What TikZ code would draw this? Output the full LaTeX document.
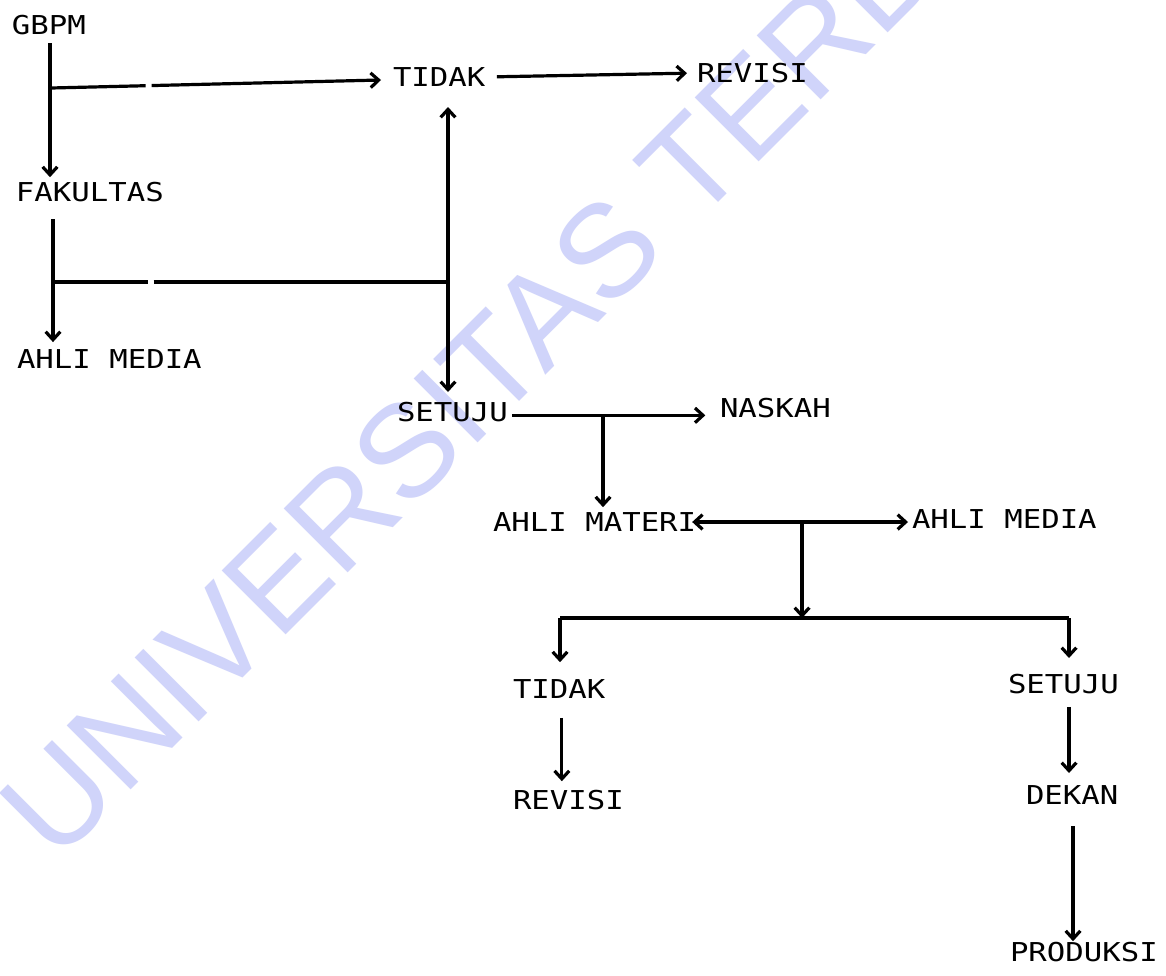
\documentclass[tikz,border=0pt]{standalone}
\usepackage{fontspec}
\usetikzlibrary{arrows.meta}
\newfontfamily\tw[FakeStretch=1.18]{DejaVu Sans Mono}
\newfontfamily\wmfont{Liberation Sans}
\definecolor{wmcol}{RGB}{208,212,250}
\tikzset{
  lbl/.style={inner sep=0pt, outer sep=0pt, anchor=west,
    font=\tw\fontsize{19.5}{20}\selectfont, text height=14.2pt, text depth=0pt},
  ln/.style={line width=2.4pt},
  arr/.style={ln, -{Straight Barb[length=6pt,width=11pt]}},
  darr/.style={ln, {Straight Barb[length=6pt,width=11pt]}-{Straight Barb[length=6pt,width=11pt]}},
  gapline/.style={dash pattern=on 71pt off 4.5pt on 600pt}
}
\begin{document}
\begin{tikzpicture}[x=0.75pt,y=-0.75pt]
\fill[white] (0,0) rectangle (1166,975);
\useasboundingbox (0,0) rectangle (1166,975);
% watermark
\begin{scope}
\clip (0,0) rectangle (1166,975);
\node[anchor=base west, inner sep=0pt, rotate=45, text=wmcol,
  font=\wmfont\fontsize{98.6}{98.6}\selectfont] (wm) at (56,865) {UNIVERSITAS TERBUKA};
\end{scope}
% labels
\node[lbl] (gbpm) at (12,25) {GBPM};
\node[lbl] (fak) at (16,192) {FAKULTAS};
\node[lbl] (medL) at (17,359) {AHLI MEDIA};
\node[lbl] (tidak1) at (393,77) {TIDAK};
\node[lbl] (rev1) at (697,73) {REVISI};
\node[lbl] (setuju1) at (397,412) {SETUJU};
\node[lbl] (naskah) at (720,408) {NASKAH};
\node[lbl] (materi) at (493,522) {AHLI MATERI};
\node[lbl] (medR) at (912,519) {AHLI MEDIA};
\node[lbl] (tidak2) at (513,689) {TIDAK};
\node[lbl] (setuju2) at (1008,684) {SETUJU};
\node[lbl] (rev2) at (513,800) {REVISI};
\node[lbl] (dekan) at (1026,795) {DEKAN};
\node[lbl] (produksi) at (1010,952) {PRODUKSI};
% junctions
\coordinate (gTop) at (50,43);
\coordinate (gJ) at (51,88);
\coordinate (fTop) at (53,219);
\coordinate (fJ) at (53,282);
\coordinate (vJ) at (448,282);
\coordinate (sJ) at (603,415);
\coordinate (mJ) at (802,522);
\coordinate (bJ) at (802,618);
\coordinate (bL) at (560,618);
\coordinate (bR) at (1069,618);
\coordinate (dTop) at (1073,826);
% left column
\draw[arr, shorten >=4pt] (gTop) -- (gTop |- fak.north);
\draw[arr, gapline] (gJ) -- ([xshift=-9pt,yshift=-2.25pt]tidak1.west);
\draw[arr, shorten >=5.6pt] (fTop) -- (fTop |- medL.north);
\draw[ln, gapline] (fJ) -- (vJ);
% TIDAK / SETUJU double arrow
\draw[darr, shorten <=15.4pt, shorten >=7.9pt] (vJ |- tidak1.south) -- (vJ |- setuju1.north);
\draw[arr, shorten <=8.6pt, shorten >=7.5pt] (tidak1.east) -- (rev1.west);
% SETUJU branch
\draw[arr, shorten <=3pt, shorten >=11pt] ([yshift=-2.5pt]setuju1.east) -- ([yshift=-2.5pt]setuju1.east -| naskah.west);
\draw[arr, shorten >=4pt] (sJ) -- (sJ |- materi.north);
\draw[darr, shorten <=-3pt, shorten >=3pt] (materi.east) -- (materi.east -| medR.west);
\draw[arr] (mJ) -- (bJ);
\draw[ln] (bL) -- (bR);
\draw[arr, shorten >=13pt] (bL) -- (bL |- tidak2.north);
\draw[arr, shorten >=12.4pt] (bR) -- (bR |- setuju2.north);
\draw[arr, shorten <=14.6pt, shorten >=7pt] ([xshift=2pt]tidak2.south) -- ([xshift=2pt]tidak2.south |- rev2.north);
\draw[arr, shorten <=10pt, shorten >=9.4pt] (bR |- setuju2.south) -- (bR |- dekan.north);
\draw[arr, shorten >=1pt] (dTop) -- (dTop |- produksi.north);
\end{tikzpicture}
\end{document}
